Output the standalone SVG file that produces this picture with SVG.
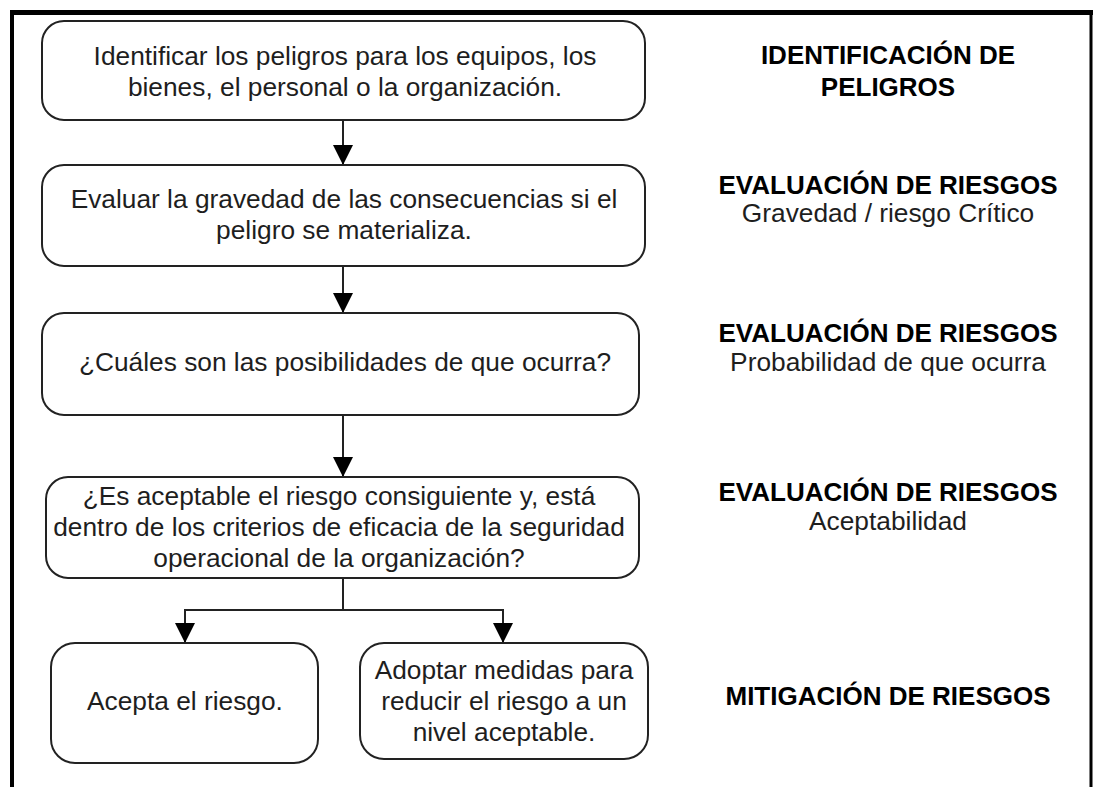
<svg xmlns="http://www.w3.org/2000/svg" width="1095" height="787" viewBox="0 0 1095 787">
<style>
.box{fill:#fff;stroke:#222;stroke-width:2}
.t{font-family:"Liberation Sans",Arial,sans-serif;font-size:26.3px;fill:#1e1e1e;text-anchor:middle}
.h{font-family:"Liberation Sans",Arial,sans-serif;font-size:26px;font-weight:bold;fill:#000;text-anchor:middle}
.c{fill:none;stroke:#222;stroke-width:2}
</style>
<defs>
<marker id="ah" markerWidth="20" markerHeight="20" refX="20" refY="10" orient="auto" markerUnits="userSpaceOnUse">
<path d="M0,0 L20,10 L0,20 Z" fill="#000"/>
</marker>
</defs>
<rect width="1095" height="787" fill="#fff"/>
<g id="frame">
<line x1="10" y1="12.5" x2="1093" y2="12.5" stroke="#000" stroke-width="5"/>
<line x1="12" y1="10" x2="12" y2="787" stroke="#000" stroke-width="4"/>
<line x1="1091" y1="10" x2="1091" y2="787" stroke="#000" stroke-width="3"/>
</g>
<g id="connectors">
<line class="c" x1="343" y1="120" x2="343" y2="165" marker-end="url(#ah)"/>
<line class="c" x1="343" y1="266" x2="343" y2="313" marker-end="url(#ah)"/>
<line class="c" x1="343" y1="415" x2="343" y2="477" marker-end="url(#ah)"/>
<polyline class="c" points="343,578 343,610"/>
<polyline class="c" points="503,610 185,610 185,643" marker-end="url(#ah)"/>
<polyline class="c" points="185,610 503,610 503,643" marker-end="url(#ah)"/>
</g>
<g id="n1">
<rect class="box" x="42" y="21" width="603" height="99" rx="22"/>
<text class="t" x="345" y="65">Identificar los peligros para los equipos, los</text>
<text class="t" x="345" y="96">bienes, el personal o la organización.</text>
</g>
<g id="n2">
<rect class="box" x="42" y="165" width="603" height="101" rx="22"/>
<text class="t" x="344" y="208">Evaluar la gravedad de las consecuencias si el</text>
<text class="t" x="344" y="239">peligro se materializa.</text>
</g>
<g id="n3">
<rect class="box" x="42" y="313" width="597" height="102" rx="22"/>
<text class="t" x="345" y="371">¿Cuáles son las posibilidades de que ocurra?</text>
</g>
<g id="n4">
<rect class="box" x="46" y="477" width="593" height="101" rx="22"/>
<text class="t" x="339" y="505">¿Es aceptable el riesgo consiguiente y, está</text>
<text class="t" x="339" y="536">dentro de los criterios de eficacia de la seguridad</text>
<text class="t" x="339" y="567">operacional de la organización?</text>
</g>
<g id="n5">
<rect class="box" x="51" y="643" width="267" height="120" rx="24"/>
<text class="t" x="185" y="710">Acepta el riesgo.</text>
</g>
<g id="n6">
<rect class="box" x="360" y="643" width="288" height="116" rx="24"/>
<text class="t" x="504" y="679">Adoptar medidas para</text>
<text class="t" x="504" y="710">reducir el riesgo a un</text>
<text class="t" x="504" y="741">nivel aceptable.</text>
</g>
<g id="l1">
<text class="h" x="888" y="64">IDENTIFICACIÓN DE</text>
<text class="h" x="888" y="96">PELIGROS</text>
</g>
<g id="l2">
<text class="h" x="888" y="194">EVALUACIÓN DE RIESGOS</text>
<text class="t" x="888" y="222">Gravedad / riesgo Crítico</text>
</g>
<g id="l3">
<text class="h" x="888" y="342">EVALUACIÓN DE RIESGOS</text>
<text class="t" x="888" y="371">Probabilidad de que ocurra</text>
</g>
<g id="l4">
<text class="h" x="888" y="501">EVALUACIÓN DE RIESGOS</text>
<text class="t" x="888" y="530">Aceptabilidad</text>
</g>
<g id="l5">
<text class="h" x="888" y="705">MITIGACIÓN DE RIESGOS</text>
</g>
</svg>
